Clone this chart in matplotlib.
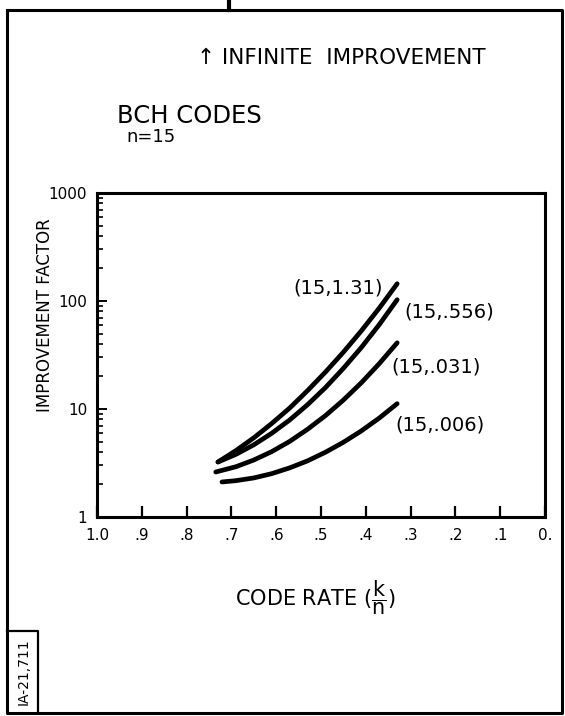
import matplotlib
matplotlib.use("Agg")
import matplotlib.pyplot as plt
from matplotlib.lines import Line2D
from matplotlib.ticker import LogLocator, NullFormatter

# code rate k/n sampled along each curve
rate_ab = [0.730, 0.690, 0.650, 0.610, 0.570, 0.530, 0.490, 0.450, 0.410, 0.370, 0.330]
rate_c = [0.735, 0.690, 0.650, 0.610, 0.570, 0.530, 0.490, 0.450, 0.410, 0.370, 0.330]
rate_d = [0.721, 0.690, 0.650, 0.610, 0.570, 0.530, 0.490, 0.450, 0.410, 0.370, 0.330]

# improvement factor for the (15, x) BCH codes
imp_131 = [3.23, 4.12, 5.41, 7.34, 10.2, 14.8, 22.0, 33.6, 52.9, 85.9, 144.5]
imp_556 = [3.23, 3.80, 4.66, 5.96, 7.91, 10.96, 15.8, 23.8, 37.1, 60.4, 102.8]
imp_031 = [2.61, 2.92, 3.37, 4.03, 5.01, 6.49, 8.69, 12.1, 17.5, 26.3, 41.0]
imp_006 = [2.11, 2.17, 2.30, 2.52, 2.85, 3.31, 3.98, 4.92, 6.27, 8.24, 11.2]

curve_labels = ["(15,1.31)", "(15,.556)", "(15,.031)", "(15,.006)"]
label_pos = [(0.462, 132), (0.214, 79), (0.243, 24.5), (0.234, 7.1)]

rate_ticks = [1.0, 0.9, 0.8, 0.7, 0.6, 0.5, 0.4, 0.3, 0.2, 0.1, 0.0]
rate_ticklabels = ["1.0", ".9", ".8", ".7", ".6", ".5", ".4", ".3", ".2", ".1", "0."]
imp_ticks = [1, 10, 100, 1000]
imp_ticklabels = ["1", "10", "100", "1000"]

W, H = 565, 716
fig = plt.figure(figsize=(W / 100, H / 100), dpi=100)
fig.patch.set_facecolor("white")

def fx(px):
    return px / W

def fy(py):
    return 1 - py / H

ax = fig.add_axes([fx(97), fy(517), 448 / W, 324 / H])
ax.set_yscale("log")
ax.set_xlim(1.0, 0.0)
ax.set_ylim(1, 1000)

for xs, ys in [(rate_ab, imp_131), (rate_ab, imp_556), (rate_c, imp_031), (rate_d, imp_006)]:
    ax.plot(xs, ys, color="black", lw=3.4, solid_capstyle="round", solid_joinstyle="round")

for text, (x, y) in zip(curve_labels, label_pos):
    ax.text(x, y, text, fontsize=14, ha="center", va="center")

ax.set_xticks(rate_ticks)
ax.set_xticklabels(rate_ticklabels, fontsize=11)
ax.set_yticks(imp_ticks)
ax.set_yticklabels(imp_ticklabels, fontsize=11)
ax.yaxis.set_minor_locator(LogLocator(base=10, subs=range(2, 10)))
ax.yaxis.set_minor_formatter(NullFormatter())
ax.tick_params(axis="x", which="major", direction="in", length=8, width=1.6, pad=8)
ax.tick_params(axis="y", which="major", direction="in", length=7, width=1.4, pad=7)
ax.tick_params(axis="y", which="minor", direction="in", length=4, width=1.2)
for s in ax.spines.values():
    s.set_linewidth(2.2)

fig.text(fx(45), fy(315), "IMPROVEMENT FACTOR", fontsize=12, rotation=90,
         ha="center", va="center")
fig.text(fx(315), fy(598), r"CODE RATE ($\dfrac{\mathrm{k}}{\mathrm{n}}$)", fontsize=15,
         ha="center", va="center")

fig.text(fx(341), fy(58), "\u2191 INFINITE  IMPROVEMENT", fontsize=15.5,
         ha="center", va="center")
fig.text(fx(189), fy(116), "BCH CODES", fontsize=17.5, ha="center", va="center")
fig.text(fx(151), fy(137), "n=15", fontsize=13, ha="center", va="center")

# page frame and drawing number box
frame = [(7, 10), (562, 10), (562, 713), (7, 713), (7, 10)]
fig.add_artist(Line2D([fx(p[0]) for p in frame], [fy(p[1]) for p in frame],
                      color="black", lw=2.2))
fig.add_artist(Line2D([fx(229), fx(229)], [fy(0), fy(10)], color="black", lw=3))
fig.add_artist(Line2D([fx(7), fx(38), fx(38)], [fy(631), fy(631), fy(713)],
                      color="black", lw=1.6))
fig.text(fx(24), fy(672), "IA-21,711", fontsize=10, rotation=90,
         ha="center", va="center")

fig.savefig("out.png", dpi=100, facecolor="white")
